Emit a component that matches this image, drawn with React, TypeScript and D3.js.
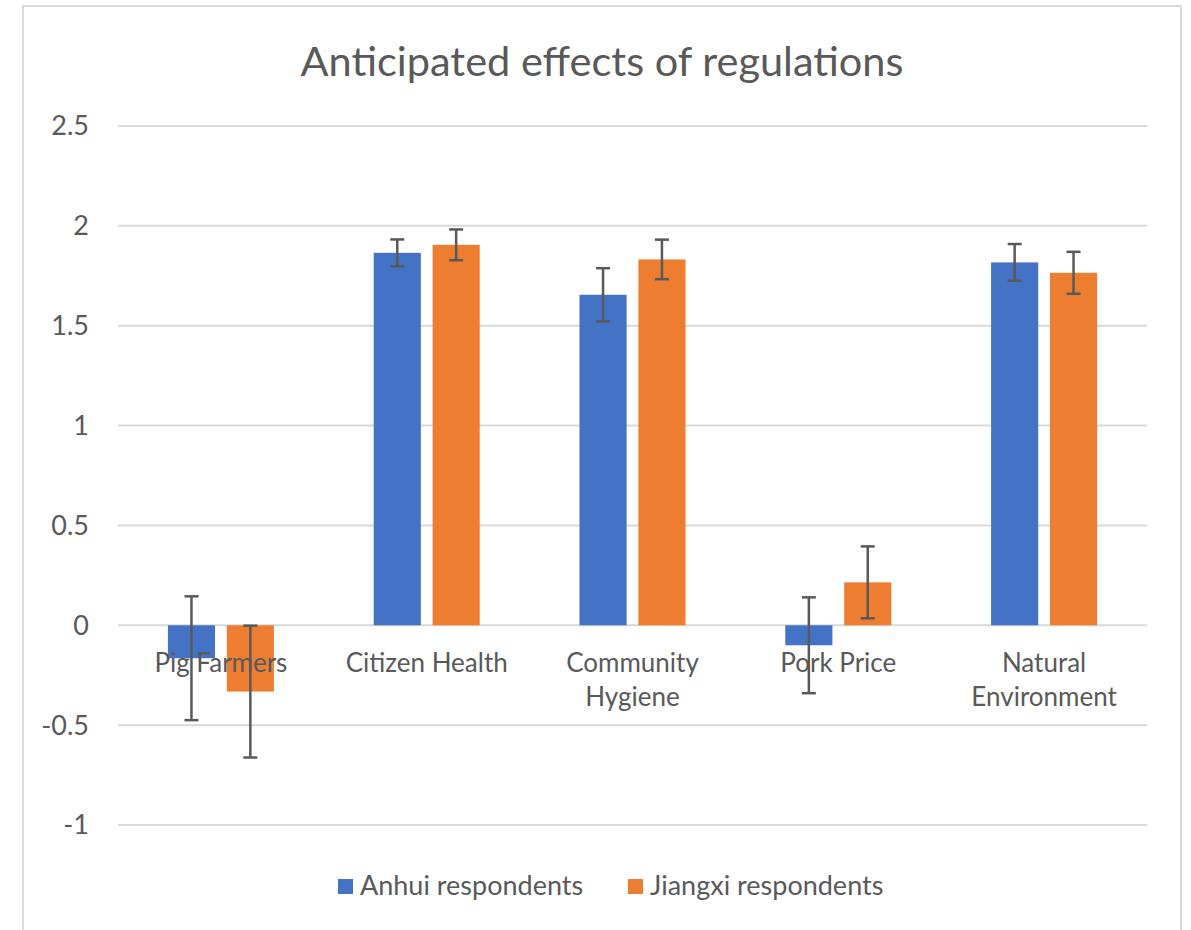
import React from "react";
import * as d3 from "d3";

const categories = ["Pig Farmers", "Citizen Health", "Community Hygiene", "Pork Price", "Natural Environment"];
const categoryLines = [["Pig Farmers"], ["Citizen Health"], ["Community", "Hygiene"], ["Pork Price"], ["Natural", "Environment"]];
const seriesNames = ["Anhui respondents", "Jiangxi respondents"];
const anhuiValues = [-0.165, 1.865, 1.655, -0.1, 1.817];
const jiangxiValues = [-0.332, 1.905, 1.832, 0.215, 1.765];
const anhuiErrors = [0.31, 0.067, 0.133, 0.24, 0.092];
const jiangxiErrors = [0.33, 0.077, 0.099, 0.18, 0.105];
const yTicks = [-1, -0.5, 0, 0.5, 1, 1.5, 2, 2.5];
const title = "Anticipated effects of regulations";

const colors = ["#4472C4", "#ED7D31"];
const textColor = "#595959";
const font = "Lato, 'Open Sans', sans-serif";

export default function App() {
  const W = 1191, H = 930;
  const y = d3.scaleLinear().domain([-1, 2.5]).range([825, 126]);
  const x0 = d3.scaleBand().domain(categories).range([118, 1147]).paddingInner(0).paddingOuter(0);
  const values = [anhuiValues, jiangxiValues];
  const errors = [anhuiErrors, jiangxiErrors];
  const groupW = 106;
  const x1 = d3.scaleBand().domain(seriesNames).range([0, groupW]).paddingInner(0.2).paddingOuter(0);

  return (
    <svg width={W} height={H} style={{ position: "absolute", left: 0, top: 0, display: "block", background: "#fff" }}>
      <rect x={23} y={6} width={1158} height={940} fill="#fff" stroke="#d9d9d9" strokeWidth={2} />
      <text x={602} y={76} textAnchor="middle" fontFamily={font} fontSize={41.5} fill={textColor}>{title}</text>
      {yTicks.map((t) => (
        <g key={t}>
          <line x1={118} x2={1147} y1={y(t)} y2={y(t)} stroke="#d9d9d9" strokeWidth={2} />
          <text x={89} y={y(t)} dy="0.35em" textAnchor="end" fontFamily={font} fontSize={27} fill={textColor}>{t}</text>
        </g>
      ))}
      {seriesNames.map((s, si) =>
        categories.map((c, ci) => {
          const v = values[si][ci];
          const bx = (x0(c) as number) + x0.bandwidth() / 2 - groupW / 2 + (x1(s) as number);
          return (
            <rect key={s + c} x={bx} width={x1.bandwidth()} y={Math.min(y(v), y(0))} height={Math.abs(y(v) - y(0))} fill={colors[si]} />
          );
        })
      )}
      {categories.map((c, ci) => {
        const cx = (x0(c) as number) + x0.bandwidth() / 2;
        return (
          <text key={c} x={cx} y={672} textAnchor="middle" fontFamily={font} fontSize={26} fill={textColor}>
            {categoryLines[ci].map((ln, li) => (
              <tspan key={li} x={cx} dy={li === 0 ? 0 : 34}>{ln}</tspan>
            ))}
          </text>
        );
      })}
      {seriesNames.map((s, si) =>
        categories.map((c, ci) => {
          const v = values[si][ci];
          const e = errors[si][ci];
          const cx = (x0(c) as number) + x0.bandwidth() / 2 - groupW / 2 + (x1(s) as number) + x1.bandwidth() / 2;
          return (
            <g key={"e" + s + c} stroke="#595959" strokeWidth={2.5}>
              <line x1={cx} x2={cx} y1={y(v + e)} y2={y(v - e)} />
              <line x1={cx - 7} x2={cx + 7} y1={y(v + e)} y2={y(v + e)} />
              <line x1={cx - 7} x2={cx + 7} y1={y(v - e)} y2={y(v - e)} />
            </g>
          );
        })
      )}
      {seriesNames.map((s, si) => {
        const lx = [338, 628][si];
        return (
          <g key={"l" + s}>
            <rect x={lx} y={879} width={15} height={15} fill={colors[si]} />
            <text x={lx + 22} y={886} dy="0.35em" fontFamily={font} fontSize={27} fill={textColor}>{s}</text>
          </g>
        );
      })}
    </svg>
  );
}
